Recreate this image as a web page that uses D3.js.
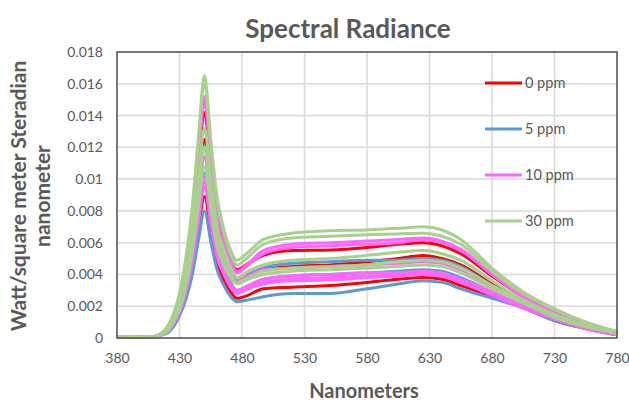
<!DOCTYPE html>
<html><head><meta charset="utf-8">
<script src="https://cdn.jsdelivr.net/npm/d3@7"></script>
<style>body{margin:0;background:#fff}svg{display:block}</style>
</head><body><svg id="c" width="629" height="403"></svg>
<script>
const wavelengths = [380,400,410,420,425,430,435,440,445,450,455,460,465,470,476,485,497,520,550,580,605,625,640,655,680,705,730,755,780];

const series0ppm = [
 [.0001,.00005,.0001,.0006,.0013,.0024,.0043,.0070,.0108,.0142,.0108,.0077,.0061,.0050,.0043,.0047,.0052,.0055,.00554,.0057,.0059,.0060,.0058,.0053,.0039,.0026,.0016,.0009,.0004],
 [.0001,.00005,.0001,.0005,.0011,.0021,.0038,.0061,.0095,.0125,.0095,.0068,.0054,.0043,.0036,.0039,.0043,.0045,.0046,.0048,.0050,.0052,.0050,.0046,.0034,.0023,.0015,.0008,.0003],
 [.0001,.00005,.0001,.0004,.0008,.0015,.0027,.0044,.0068,.0089,.0068,.0048,.0037,.0030,.0025,.0027,.0031,.0032,.0033,.0035,.0037,.0038,.0037,.0033,.0026,.0019,.0011,.0006,.0002]
];
const series5ppm = [
 [.0001,.00005,.0001,.0005,.0011,.0021,.0036,.0059,.0092,.0121,.0092,.0065,.0052,.0042,.0036,.0040,.0044,.0047,.0048,.0049,.0049,.0050,.0049,.0045,.0033,.0023,.0014,.0008,.0003],
 [.0001,.00005,.0001,.0004,.0009,.0018,.0031,.0051,.0079,.0104,.0079,.0056,.0045,.0036,.0030,.0033,.0037,.0039,.0040,.0041,.0042,.0043,.0042,.0038,.0029,.0020,.0012,.0007,.0002],
 [.0001,.00005,.0001,.0003,.0007,.0014,.0024,.0039,.0061,.0080,.0061,.0043,.0034,.0027,.00228,.0024,.0026,.0028,.0028,.0031,.0034,.0036,.0035,.0031,.0025,.0019,.0011,.0006,.0002]
];
const series10ppm = [
 [.0001,.00005,.0001,.0006,.0014,.0026,.0046,.0074,.0116,.0152,.0116,.0082,.0065,.0051,.0042,.0047,.0055,.0059,.0060,.0061,.0062,.0063,.0061,.0056,.0040,.0027,.0017,.0009,.0004],
 [.0001,.00005,.0001,.0006,.0013,.0025,.0044,.0072,.0112,.0148,.0112,.0080,.0063,.0050,.0041,.0046,.0053,.0057,.0058,.0059,.0060,.0062,.0060,.0055,.0040,.0026,.0017,.0009,.0004],
 [.0001,.00005,.0001,.0005,.0010,.0019,.0034,.0056,.0087,.0114,.0087,.0062,.0050,.0042,.0037,.0039,.0043,.0044,.0045,.0046,.0047,.0048,.0047,.0043,.0032,.0022,.0014,.0007,.0003],
 [.0001,.00005,.0001,.0004,.0009,.0017,.0030,.0049,.0077,.0101,.0077,.0055,.0044,.0035,.0030,.0033,.0037,.0039,.0040,.0041,.0041,.0042,.0041,.0037,.0029,.0020,.0012,.0007,.0003],
 [.0001,.00005,.0001,.0004,.0009,.0017,.0029,.0048,.0074,.0098,.0074,.0053,.0042,.0034,.0029,.0032,.0035,.0037,.0038,.0039,.0040,.0041,.0040,.0036,.0028,.0019,.0012,.0006,.0002],
 [.0001,.00005,.0001,.0004,.0009,.0016,.0029,.0047,.0072,.0095,.0072,.0051,.0041,.0033,.0028,.0031,.0034,.0036,.00365,.0038,.0039,.0040,.0039,.0035,.0027,.0019,.0012,.0006,.0002]
];
const series30ppm = [
 [.0001,.00005,.0001,.0007,.0015,.0028,.0050,.0081,.0125,.0165,.0125,.0089,.0070,.0057,.0049,.0054,.0062,.0066,.00675,.0068,.0069,.0070,.0068,.0062,.0044,.0029,.00185,.0010,.0004],
 [.0001,.00005,.0001,.0006,.0014,.0027,.0048,.0078,.0122,.0160,.0122,.0086,.0068,.0055,.0046,.0051,.0059,.0063,.0064,.0065,.00655,.0066,.0064,.0059,.0042,.0028,.0018,.0010,.0004],
 [.0001,.00005,.0001,.0005,.0012,.0022,.0040,.0065,.0100,.0132,.0100,.0071,.0057,.0046,.0038,.0042,.0046,.0049,.0050,.0052,.0054,.0055,.0053,.0049,.0036,.0024,.0015,.0008,.0003],
 [.0001,.00005,.0001,.0005,.0011,.0020,.0036,.0059,.0091,.0120,.0091,.0065,.0052,.0041,.0035,.0038,.0042,.0044,.0045,.0046,.0048,.0049,.0048,.0044,.0033,.0023,.0014,.0008,.0003],
 [.0001,.00005,.0001,.0004,.0010,.0018,.0032,.0053,.0082,.0108,.0082,.0058,.0047,.0039,.0034,.0037,.0040,.0042,.0043,.0044,.0045,.0046,.0045,.0041,.0031,.0022,.0013,.0007,.0003]
];

const seriesNames = ["0 ppm","5 ppm","10 ppm","30 ppm"];
const seriesColors = ["#FF0000","#5B9BD5","#FF66FF","#A9D18E"];
const xTicks = [380,430,480,530,580,630,680,730,780];
const yTicks = [0,0.002,0.004,0.006,0.008,0.01,0.012,0.014,0.016,0.018];
const yTickLabels = ["0","0.002","0.004","0.006","0.008","0.01","0.012","0.014","0.016","0.018"];

const groups = [series0ppm, series5ppm, series10ppm, series30ppm];
const svg = d3.select("#c");
const L = 117, R = 617, T = 52, B = 338;
const x = d3.scaleLinear().domain([380,780]).range([L,R]);
const y = d3.scaleLinear().domain([0,0.018]).range([B,T]);
const font = "Lato, 'Open Sans', sans-serif";
const grey = "#595959";

// grid
svg.append("g").selectAll("line").data(xTicks).join("line")
  .attr("x1",d=>x(d)).attr("x2",d=>x(d)).attr("y1",T).attr("y2",B)
  .attr("stroke","#d9d9d9").attr("stroke-width",1.5);
svg.append("g").selectAll("line").data(yTicks).join("line")
  .attr("x1",L).attr("x2",R).attr("y1",d=>y(d)).attr("y2",d=>y(d))
  .attr("stroke","#d9d9d9").attr("stroke-width",1.5);

// curves
const line = d3.line().x((d,i)=>x(wavelengths[i])).y(d=>y(d)).curve(d3.curveMonotoneX);
groups.forEach((g,gi)=>{
  svg.append("g").selectAll("path").data(g).join("path")
    .attr("d",line).attr("fill","none")
    .attr("stroke",seriesColors[gi]).attr("stroke-width",3)
    .attr("stroke-linejoin","round");
});

// frame
svg.append("rect").attr("x",L).attr("y",T).attr("width",R-L).attr("height",B-T)
  .attr("fill","none").attr("stroke","#404040").attr("stroke-width",1.3);

// axes
const xAxis = svg.append("g").attr("transform",`translate(0,${B})`)
  .call(d3.axisBottom(x).tickValues(xTicks).tickSize(0).tickPadding(15).tickFormat(d3.format("d")));
xAxis.select(".domain").remove();
xAxis.selectAll("text").attr("font-family",font).attr("font-size",14).attr("fill",grey);

const yAxis = svg.append("g").attr("transform",`translate(${L},0)`)
  .call(d3.axisLeft(y).tickValues(yTicks).tickSize(0).tickPadding(14).tickFormat((d,i)=>yTickLabels[i]));
yAxis.select(".domain").remove();
yAxis.selectAll("text").attr("font-family",font).attr("font-size",14).attr("fill",grey);

// titles
svg.append("text").attr("x",348).attr("y",38).attr("text-anchor","middle")
  .attr("font-family",font).attr("font-weight","bold").attr("font-size",26).attr("fill",grey)
  .text("Spectral Radiance");
svg.append("text").attr("x",364).attr("y",398).attr("text-anchor","middle")
  .attr("font-family",font).attr("font-weight","bold").attr("font-size",20).attr("fill",grey)
  .text("Nanometers");
const yt = svg.append("text").attr("transform","translate(26,196) rotate(-90)")
  .attr("text-anchor","middle").attr("font-family",font).attr("font-weight","bold")
  .attr("font-size",21).attr("fill",grey);
yt.append("tspan").attr("x",0).attr("dy",0).text("Watt/square meter Steradian");
yt.append("tspan").attr("x",0).attr("dy",24).text("nanometer");

// legend
const lg = svg.append("g").selectAll("g").data(seriesNames).join("g")
  .attr("transform",(d,i)=>`translate(485,${83+i*46})`);
lg.append("line").attr("x1",0).attr("x2",37).attr("y1",0).attr("y2",0)
  .attr("stroke",(d,i)=>seriesColors[i]).attr("stroke-width",3);
lg.append("text").attr("x",40).attr("y",5).attr("font-family",font).attr("font-size",14.5)
  .attr("fill",grey).text(d=>d);
</script></body></html>
